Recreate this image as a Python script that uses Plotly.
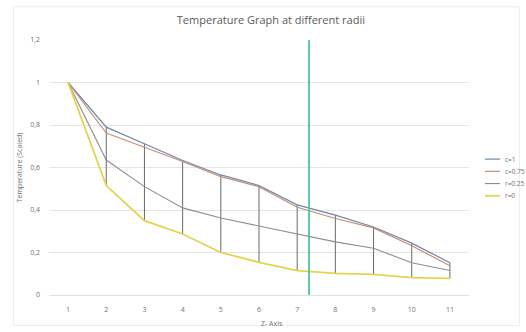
import plotly.graph_objects as go

z = [1, 2, 3, 4, 5, 6, 7, 8, 9, 10, 11]
c_1 = [1.0, 0.79, 0.712, 0.633, 0.565, 0.515, 0.424, 0.376, 0.32, 0.244, 0.152]
c_075 = [1.0, 0.762, 0.695, 0.628, 0.557, 0.51, 0.413, 0.36, 0.316, 0.232, 0.138]
r_025 = [1.0, 0.635, 0.51, 0.41, 0.362, 0.325, 0.285, 0.25, 0.22, 0.152, 0.115]
r_0 = [1.0, 0.515, 0.35, 0.287, 0.2, 0.154, 0.115, 0.102, 0.097, 0.082, 0.078]
series_names = ["c=1", "c=0.75", "r=0.25", "r=0"]
series_colors = ["#6f86ad", "#c39070", "#8e8e8e", "#e3d34e"]
series_widths = [1.2, 1.2, 1.1, 1.8]
marker_z = 7.31
y_ticks = [0, 0.2, 0.4, 0.6, 0.8, 1.0, 1.2]

fig = go.Figure()

# high-low connector lines
hx, hy = [], []
for i in range(1, len(z)):
    hi = max(c_1[i], c_075[i], r_025[i], r_0[i])
    lo = min(c_1[i], c_075[i], r_025[i], r_0[i])
    hx += [z[i], z[i], None]
    hy += [hi, lo, None]
fig.add_trace(go.Scatter(x=hx, y=hy, mode="lines", showlegend=False,
                         line=dict(color="#6a6a6a", width=1), hoverinfo="skip"))

for name, vals, col, w in zip(series_names, [c_1, c_075, r_025, r_0], series_colors, series_widths):
    fig.add_trace(go.Scatter(x=z, y=vals, mode="lines", name=name, showlegend=False,
                             line=dict(color=col, width=w)))

fig.add_trace(go.Scatter(x=[marker_z, marker_z], y=[0, 1.2], mode="lines", showlegend=False,
                         line=dict(color="#4cc3a6", width=1.8)))

# compact legend drawn manually (Excel-like spacing)
leg_y0, leg_dy = 0.533, 0.048
for k, (name, col, w) in enumerate(zip(series_names, series_colors, series_widths)):
    yy = leg_y0 - k * leg_dy
    fig.add_shape(type="line", xref="paper", yref="paper", x0=1.038, x1=1.074, y0=yy, y1=yy,
                  line=dict(color=col, width=w))
    fig.add_annotation(xref="paper", yref="paper", x=1.08, y=yy, text=name, showarrow=False,
                       xanchor="left", yanchor="middle", font=dict(size=6.5, color="#707070"))

# x-axis title as annotation so the plot area does not shrink
fig.add_annotation(xref="paper", yref="paper", x=0.53, y=-0.11, text="Z- Axis", showarrow=False,
                   xanchor="center", yanchor="middle", font=dict(size=7, color="#707070"))

fig.update_layout(
    width=526, height=332,
    margin=dict(l=49, r=57, t=40, b=37, autoexpand=False),
    paper_bgcolor="white", plot_bgcolor="white",
    separators=",.",
    font=dict(family="Open Sans, Liberation Sans, sans-serif", color="#707070", size=7),
    title=dict(text="Temperature Graph at different radii", x=0.515, xanchor="center",
               y=0.94, yanchor="middle",
               font=dict(size=11, color="#5a5a5a")),
    xaxis=dict(range=[0.5, 11.5], tickmode="array", tickvals=z, ticktext=[str(v) for v in z],
               showgrid=False, zeroline=False, showline=True, linecolor="#e0e0e0", linewidth=1,
               ticks="", ticklabelstandoff=8),
    yaxis=dict(range=[0, 1.2], tickmode="array", tickvals=y_ticks,
               ticktext=["0", "0,2", "0,4", "0,6", "0,8", "1", "1,2"],
               showgrid=True, gridcolor="#e6e6e6", gridwidth=1, zeroline=False,
               ticks="", ticklabelstandoff=8,
               title=dict(text="Temperature (Scaled)", font=dict(size=7, color="#707070"), standoff=6)),
    showlegend=False,
)

fig.add_shape(type="rect", xref="paper", yref="paper", x0=-0.085, x1=1.12, y0=-0.12, y1=1.13,
              line=dict(color="#ececec", width=1), layer="below")

fig.write_html("out.html")
